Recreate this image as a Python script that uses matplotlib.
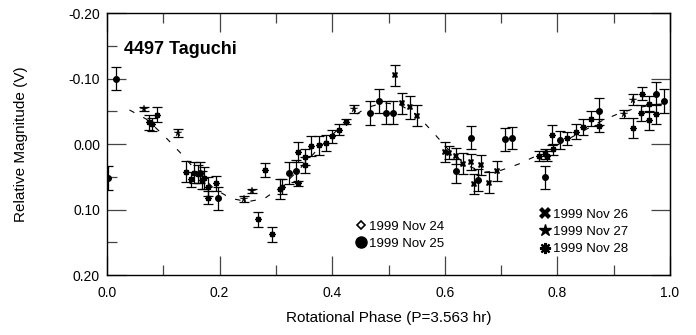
import numpy as np
import matplotlib
matplotlib.use('Agg')
import matplotlib.pyplot as plt
from matplotlib.lines import Line2D
from matplotlib.ticker import MultipleLocator

plt.rcParams['font.family'] = ['Liberation Sans', 'DejaVu Sans']

# Nov 25 (circulos)
fase_25 = [0.002, 0.016, 0.166, 0.198, 0.324, 0.336, 0.468, 0.483, 0.495, 0.508,
           0.619, 0.646, 0.659, 0.707, 0.720, 0.778, 0.805, 0.873, 0.975, 0.989]
mag_25 = [0.052, -0.100, 0.044, 0.083, 0.044, 0.041, -0.047, -0.066, -0.048, -0.048,
          0.041, -0.010, 0.055, -0.007, -0.009, 0.051, -0.006, -0.050, -0.077, -0.066]
err_25 = [0.018, 0.018, 0.016, 0.018, 0.017, 0.017, 0.018, 0.018, 0.018, 0.018,
          0.018, 0.017, 0.017, 0.017, 0.017, 0.018, 0.014, 0.021, 0.018, 0.018]

# Nov 26
fase_26 = [0.512, 0.524, 0.538, 0.551, 0.601, 0.607, 0.619, 0.633, 0.647, 0.652,
           0.665, 0.678, 0.692]
mag_26 = [-0.105, -0.062, -0.056, -0.043, 0.012, 0.013, 0.018, 0.030, 0.027, 0.061,
          0.032, 0.059, 0.041]
err_26 = [0.016, 0.016, 0.017, 0.016, 0.015, 0.010, 0.012, 0.016, 0.012, 0.016,
          0.016, 0.016, 0.015]

# Nov 27
fase_27 = [0.065, 0.126, 0.244, 0.257, 0.438, 0.919, 0.934]
mag_27 = [-0.053, -0.017, 0.084, 0.072, -0.053, -0.046, -0.068]
err_27 = [0.003, 0.006, 0.004, 0.003, 0.006, 0.006, 0.008]

# Nov 28
fase_28 = [0.075, 0.080, 0.088, 0.141, 0.149, 0.155, 0.161, 0.168, 0.173, 0.180,
           0.180, 0.194, 0.268, 0.281, 0.293, 0.307, 0.311, 0.339, 0.339, 0.351,
           0.352, 0.362, 0.376, 0.389, 0.400, 0.412, 0.424, 0.767, 0.778, 0.782,
           0.790, 0.793, 0.817, 0.833, 0.846, 0.859, 0.873, 0.935, 0.948, 0.951,
           0.963, 0.963, 0.975]
mag_28 = [-0.033, -0.030, -0.045, 0.042, 0.054, 0.044, 0.046, 0.055, 0.052, 0.065,
          0.082, 0.060, 0.115, 0.040, 0.138, 0.069, 0.065, 0.060, 0.012, 0.020,
          0.032, 0.003, 0.002, -0.002, -0.012, -0.022, -0.034, 0.018, 0.015, 0.018,
          -0.014, 0.008, -0.009, -0.019, -0.026, -0.039, -0.028, -0.025, -0.047, -0.077,
          -0.061, -0.036, -0.046]
err_28 = [0.012, 0.010, 0.011, 0.016, 0.012, 0.016, 0.014, 0.014, 0.017, 0.014,
          0.010, 0.011, 0.011, 0.011, 0.011, 0.015, 0.012, 0.004, 0.015, 0.012,
          0.012, 0.015, 0.014, 0.012, 0.010, 0.008, 0.004, 0.008, 0.008, 0.008,
          0.015, 0.008, 0.010, 0.012, 0.012, 0.012, 0.010, 0.015, 0.012, 0.010,
          0.012, 0.015, 0.015]

# Curva ajustada
fase_ajuste = [0.04, 0.07, 0.10, 0.13, 0.16, 0.19, 0.22, 0.25, 0.28, 0.31, 0.34,
               0.37, 0.40, 0.43, 0.46, 0.49, 0.52, 0.55, 0.58, 0.61, 0.64, 0.67,
               0.70, 0.73, 0.76, 0.79, 0.82, 0.85, 0.88, 0.91, 0.94, 0.97, 1.00]
mag_ajuste = [-0.052, -0.038, -0.014, 0.013, 0.042, 0.068, 0.083, 0.088, 0.083, 0.065,
              0.040, 0.012, -0.014, -0.038, -0.055, -0.063, -0.060, -0.045, -0.017,
              0.012, 0.033, 0.043, 0.040, 0.031, 0.019, 0.006, -0.008, -0.022, -0.036,
              -0.047, -0.055, -0.060, -0.062]

fig = plt.figure(figsize=(6.96, 3.35), dpi=100)
ax = fig.add_axes([0.1537, 0.179, 0.809, 0.782])

ax.plot(fase_ajuste, mag_ajuste, color='black', lw=0.8, linestyle=(0, (5, 9)))

estilo_erro = dict(fmt='none', ecolor='black', elinewidth=0.9, capsize=3.5, capthick=0.9)
ax.errorbar(fase_25, mag_25, yerr=err_25, **estilo_erro)
ax.errorbar(fase_26, mag_26, yerr=err_26, **estilo_erro)
ax.errorbar(fase_27, mag_27, yerr=err_27, **estilo_erro)
ax.errorbar(fase_28, mag_28, yerr=err_28, **estilo_erro)

ax.plot(fase_25, mag_25, 'o', color='black', ms=4)
ax.plot(fase_26, mag_26, 'X', color='black', ms=4.5, mew=0)
ax.plot(fase_27, mag_27, '*', color='black', ms=5.5, mew=0.3)
ax.plot(fase_28, mag_28, marker=(8, 2, 0), ls='none', color='black', ms=4.5, mew=1.0)

ax.set_xlim(0, 1)
ax.set_ylim(0.20, -0.20)
ax.xaxis.set_major_locator(MultipleLocator(0.2))
ax.xaxis.set_minor_locator(MultipleLocator(0.1))
ax.yaxis.set_major_locator(MultipleLocator(0.1))
ax.yaxis.set_minor_locator(MultipleLocator(0.05))
ax.set_xticklabels([f'{v:.1f}' for v in ax.get_xticks()])
ax.set_yticklabels([f'{v:.2f}' for v in ax.get_yticks()])
ax.tick_params(axis='x', which='both', direction='in', top=True, labelsize=10, pad=8)
ax.tick_params(axis='y', which='both', direction='in', left=True, right=False, labelsize=10, pad=5)
ax.tick_params(which='major', length=14, width=0.9, color='#444444')
ax.tick_params(which='minor', length=7, width=0.9, color='#444444')
ax2 = ax.secondary_yaxis('right')
ax2.yaxis.set_major_locator(MultipleLocator(0.1))
ax2.tick_params(direction='in', length=14, width=0.9, color='#444444', labelright=False)
for s in ax.spines.values():
    s.set_linewidth(1.0)

ax.set_xlabel('Rotational Phase (P=3.563 hr)', fontsize=11, labelpad=8)
ax.set_ylabel('Relative Magnitude (V)', fontsize=11, labelpad=29)
ax.text(0.03, 0.86, '4497 Taguchi', transform=ax.transAxes, fontsize=13,
        fontweight='bold', va='center')

h1 = [Line2D([], [], marker='D', ls='none', mfc='white', mec='black', mew=1.2, ms=4.5),
      Line2D([], [], marker='o', ls='none', color='black', ms=8)]
leg1 = ax.legend(h1, ['1999 Nov 24', '1999 Nov 25'], loc='lower left',
                 bbox_to_anchor=(0.43, 0.07), frameon=False, fontsize=9.5,
                 handlelength=0.8, handletextpad=0.2, labelspacing=0.38, borderpad=0)
ax.add_artist(leg1)
h2 = [Line2D([], [], marker='X', ls='none', color='black', ms=9, mew=0),
      Line2D([], [], marker='*', ls='none', color='black', ms=9),
      Line2D([], [], marker=(8, 2, 0), ls='none', color='black', ms=8, mew=1.6)]
ax.legend(h2, ['1999 Nov 26', '1999 Nov 27', '1999 Nov 28'], loc='lower left',
          bbox_to_anchor=(0.757, 0.05), frameon=False, fontsize=9.5,
          handlelength=0.8, handletextpad=0.2, labelspacing=0.38, borderpad=0)

fig.savefig('out.png', dpi=100)
